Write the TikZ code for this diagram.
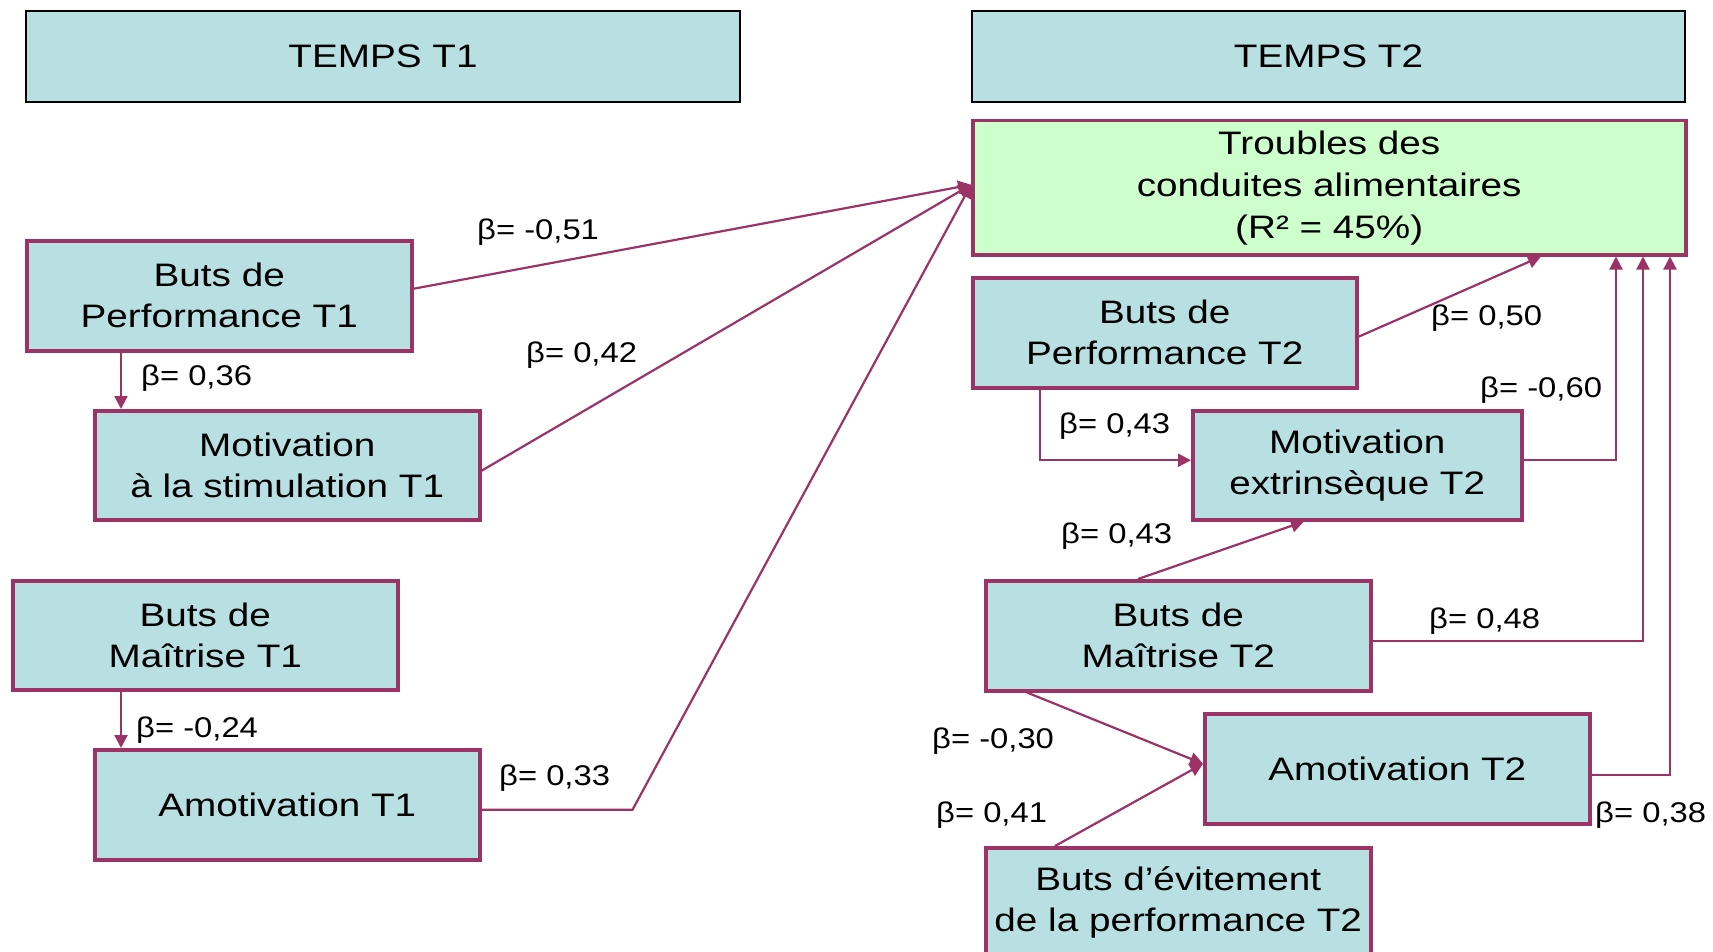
\documentclass[tikz,border=0pt]{standalone}
\usepackage{fontspec}
\setmainfont{Liberation Sans}[FakeStretch=1.19]
\newfontfamily\lblfont{Liberation Sans}[FakeStretch=1.15]
\usetikzlibrary{arrows.meta,calc}
\definecolor{boxfill}{HTML}{B8DFE2}
\definecolor{boxline}{HTML}{9C3366}
\definecolor{greenfill}{HTML}{CCFFCC}
\begin{document}
\begin{tikzpicture}[x=1pt,y=-1pt,
  tbox/.style={draw=boxline, line width=3.5pt, fill=boxfill, rectangle, inner sep=0pt,
    anchor=north west, align=center, font=\fontsize{32.5}{41}\selectfont},
  hdr/.style={draw=black, line width=2pt, fill=boxfill, rectangle, inner sep=0pt,
    anchor=north west, align=center, font=\fontsize{32.5}{41}\selectfont},
  lbl/.style={anchor=base west, inner sep=0pt, font=\lblfont\fontsize{28.5}{34}\selectfont},
  conn/.style={draw=boxline, line width=2.2pt},
  arr/.style={conn, -{Triangle[length=13pt,width=13pt]}}]
\useasboundingbox (0,0) rectangle (1713,952);
\clip (0,0) rectangle (1713,952);
\fill[white] (0,0) rectangle (1713,952);

% headers
\node[hdr, minimum width=714pt, minimum height=91pt] (h1) at (25,10) {TEMPS T1};
\node[hdr, minimum width=713pt, minimum height=91pt] (h2) at (971,10) {TEMPS T2};

% boxes
\node[tbox, fill=greenfill, minimum width=713pt, minimum height=134pt,
  font=\fontsize{32.5}{42}\selectfont] (tca) at (971,119)
  {Troubles des\\conduites alimentaires\\(R² = 45\%)};
\node[tbox, minimum width=385pt, minimum height=110pt] (p1) at (25,239) {Buts de\\Performance T1};
\node[tbox, minimum width=385pt, minimum height=109pt] (ms) at (93,409) {Motivation\\à la stimulation T1};
\node[tbox, minimum width=385pt, minimum height=109pt] (m1) at (11,579) {Buts de\\Maîtrise T1};
\node[tbox, minimum width=385pt, minimum height=110pt] (a1) at (93,748) {Amotivation T1};
\node[tbox, minimum width=384pt, minimum height=110pt] (p2) at (971,276) {Buts de\\Performance T2};
\node[tbox, minimum width=329pt, minimum height=109pt] (me) at (1191,409) {Motivation\\extrinsèque T2};
\node[tbox, minimum width=385pt, minimum height=110pt] (m2) at (984,579) {Buts de\\Maîtrise T2};
\node[tbox, minimum width=385pt, minimum height=110pt] (a2) at (1203,712) {Amotivation T2};
\node[tbox, minimum width=385pt, minimum height=110pt] (ev) at (984,846) {Buts d’évitement\\de la performance T2};

% entry points
\coordinate (tin) at ($(tca.west)+(0,-3)$);
\coordinate (a2in) at ($(a2.west)+(0,-5)$);

% T1 connectors
\draw[arr] ([xshift=96pt]p1.south west) -- ([xshift=96pt]p1.south west |- ms.north);
\draw[arr] ([xshift=110pt]m1.south west) -- ([xshift=110pt]m1.south west |- a1.north);
\draw[arr] ($(p1.east)+(0,-7)$) -- (tin);
\draw[arr] ($(ms.east)+(0,5.5)$) -- (tin);
\draw[arr] ($(a1.east)+(0,5)$) -- ($(a1.east)+(151,5)$) -- (tin);

% T2 connectors
\draw[arr] ($(p2.east)+(0,4)$) -- ($(tca.south west)+(570,0)$);
\draw[arr] ([xshift=69pt]p2.south west) |- ($(me.west)+(0,-5)$);
\draw[arr] ($(me.east)+(0,-5)$) -| ($(tca.south west)+(645,0)$);
\draw[arr] ([xshift=154pt]m2.north west) -- ([xshift=113pt]me.south west);
\draw[arr] ($(m2.east)+(0,5)$) -| ($(tca.south west)+(672,0)$);
\draw[arr] ($(a2.east)+(0,6)$) -| ($(tca.south west)+(699,0)$);
\draw[arr] ([xshift=43pt]m2.south west) -- (a2in);
\draw[arr] ([xshift=71pt]ev.north west) -- (a2in);

% labels
\node[lbl] (l1) at (477,240) {β= -0,51};
\node[lbl] (l2) at (526,362) {β= 0,42};
\node[lbl] (l3) at (141,385) {β= 0,36};
\node[lbl] (l4) at (136,737) {β= -0,24};
\node[lbl] (l5) at (499,785) {β= 0,33};
\node[lbl] (l6) at (1431,325) {β= 0,50};
\node[lbl] (l7) at (1480,397) {β= -0,60};
\node[lbl] (l8) at (1059,433) {β= 0,43};
\node[lbl] (l9) at (1061,543) {β= 0,43};
\node[lbl] (l10) at (1429,628) {β= 0,48};
\node[lbl] (l11) at (932,748) {β= -0,30};
\node[lbl] (l12) at (936,822) {β= 0,41};
\node[lbl] (l13) at (1595,822) {β= 0,38};
\end{tikzpicture}
\end{document}
